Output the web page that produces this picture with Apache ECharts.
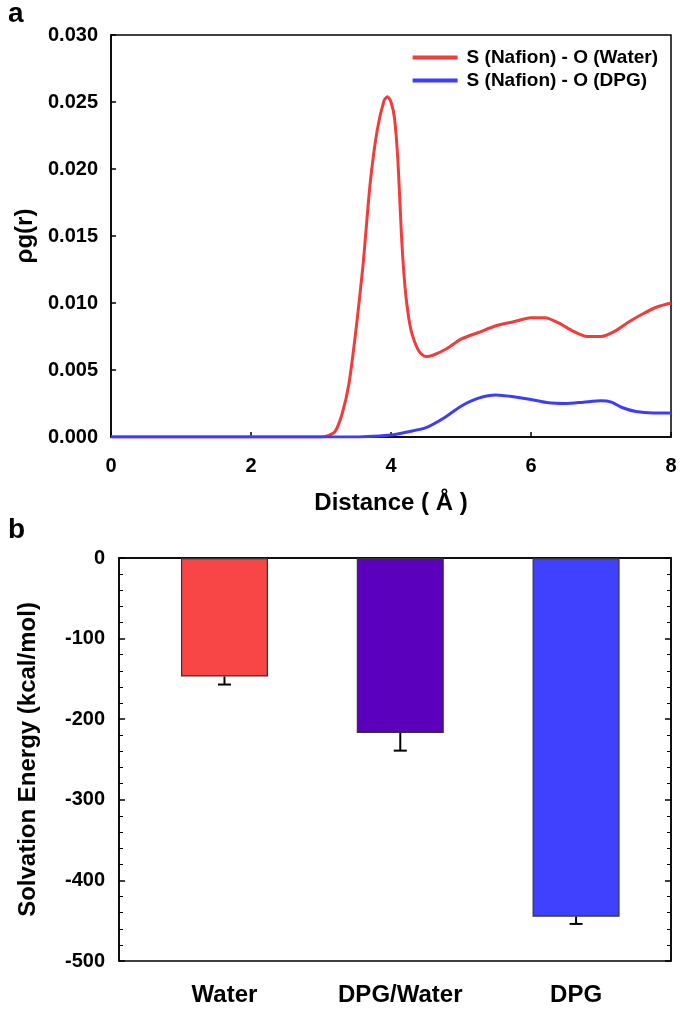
<!DOCTYPE html>
<html>
<head>
<meta charset="utf-8">
<script src="https://cdn.jsdelivr.net/npm/echarts@6/dist/echarts.min.js"></script>
<style>
html,body{margin:0;padding:0;background:#fff;}
#chart{width:685px;height:1017px;}
</style>
</head>
<body>
<div id="chart"></div>
<script>
// Panel a: radial distribution
const waterX = [0, 0.5, 1, 1.5, 2, 2.5, 2.8, 3.0, 3.1, 3.2, 3.3, 3.4, 3.5, 3.6, 3.7, 3.8, 3.9, 3.95, 4.0, 4.05, 4.1, 4.15, 4.2, 4.25, 4.3, 4.4, 4.5, 4.6, 4.8, 5.0, 5.25, 5.5, 5.75, 6.0, 6.2, 6.4, 6.6, 6.8, 7.0, 7.2, 7.4, 7.6, 7.8, 8.0];
const waterY = [0, 0, 0, 0, 0, 0, 0, 0, 0.0001, 0.0004, 0.0017, 0.0040, 0.0080, 0.0128, 0.0188, 0.0228, 0.0251, 0.0254, 0.0250, 0.0238, 0.0205, 0.0150, 0.0112, 0.0090, 0.0077, 0.0064, 0.0060, 0.0061, 0.0066, 0.0073, 0.0078, 0.0083, 0.0086, 0.0089, 0.0089, 0.0085, 0.0079, 0.0075, 0.0075, 0.0079, 0.0086, 0.0092, 0.0097, 0.0100];
const dpgX = [0, 0.5, 1, 1.5, 2, 2.5, 3, 3.5, 3.75, 4.0, 4.25, 4.5, 4.75, 5.0, 5.25, 5.5, 5.75, 6.0, 6.25, 6.5, 6.75, 7.0, 7.15, 7.3, 7.5, 7.75, 8.0];
const dpgY = [0, 0, 0, 0, 0, 0, 0, 0, 0.00005, 0.00015, 0.0004, 0.0007, 0.0014, 0.0023, 0.0029, 0.00313, 0.0030, 0.0028, 0.00255, 0.0025, 0.0026, 0.0027, 0.0026, 0.0022, 0.0019, 0.0018, 0.0018];
const seriesNames = ['S (Nafion) - O (Water)', 'S (Nafion) - O (DPG)'];

// Panel b: solvation energy
const categories = ['Water', 'DPG/Water', 'DPG'];
const energies = [-147, -217, -445];
const errors = [10, 22, 9];
const barColors = ['#f84545', '#5b00bd', '#4040ff'];

const zip = (xs, ys) => xs.map((x, i) => [x, ys[i]]);
const FONT = 'Liberation Sans, Arial, sans-serif';
const tickLabel = {fontFamily: FONT, fontWeight: 'bold', fontSize: 20, color: '#000'};
const titleStyle = {fontFamily: FONT, fontWeight: 'bold', fontSize: 24, color: '#000'};

const chart = echarts.init(document.getElementById('chart'));
chart.setOption({
  animation: false,
  backgroundColor: '#fff',
  graphic: [
    {type: 'text', left: 8, top: 0, style: {text: 'a', font: 'bold 28px ' + FONT, fill: '#000'}},
    {type: 'text', left: 8, top: 516, style: {text: 'b', font: 'bold 28px ' + FONT, fill: '#000'}}
  ],
  legend: {
    data: seriesNames,
    orient: 'vertical',
    right: 22,
    top: 43,
    itemWidth: 45,
    itemHeight: 4,
    itemGap: 4,
    icon: 'rect',
    textStyle: {fontFamily: FONT, fontWeight: 'bold', fontSize: 19, color: '#000', padding: [0, 0, 0, 4]}
  },
  grid: [
    {left: 111, top: 35, width: 560, height: 402, show: true, borderColor: '#000', borderWidth: 1.5, backgroundColor: 'transparent'},
    {left: 119, top: 558, width: 552, height: 403, show: true, borderColor: '#000', borderWidth: 1.5, backgroundColor: 'transparent'}
  ],
  xAxis: [
    {gridIndex: 0, type: 'value', min: 0, max: 8, interval: 2,
     axisLine: {lineStyle: {color: '#000', width: 1.5}},
     axisTick: {inside: true, length: 5, lineStyle: {color: '#000', width: 1.5}},
     axisLabel: Object.assign({margin: 19}, tickLabel),
     splitLine: {show: false},
     name: 'Distance ( Å )', nameLocation: 'middle', nameGap: 54,
     nameTextStyle: titleStyle},
    {gridIndex: 1, type: 'value', min: 0.4, max: 3.54,
     axisLine: {lineStyle: {color: '#000', width: 1.5}},
     axisTick: {show: false},
     axisLabel: Object.assign({}, tickLabel, {fontSize: 24, margin: 22, customValues: [1, 2, 3],
       formatter: v => categories[Math.round(v) - 1] || ''}),
     splitLine: {show: false}}
  ],
  yAxis: [
    {gridIndex: 0, type: 'value', min: 0, max: 0.03, interval: 0.005,
     axisLine: {show: true, lineStyle: {color: '#000', width: 1.5}},
     axisTick: {show: true, inside: true, length: 5, lineStyle: {color: '#000', width: 1.5}},
     axisLabel: Object.assign({margin: 13, formatter: v => v.toFixed(3)}, tickLabel),
     splitLine: {show: false},
     name: 'ρg(r)', nameLocation: 'middle', nameGap: 71, nameRotate: 90,
     nameTextStyle: titleStyle},
    {gridIndex: 1, type: 'value', min: -500, max: 0, interval: 100, position: 'left',
     axisLine: {show: true, lineStyle: {color: '#000', width: 1.5}},
     axisTick: {show: true, inside: true, length: 6, lineStyle: {color: '#000', width: 1.5}},
     minorTick: {show: true, splitNumber: 5, length: 4, lineStyle: {color: '#000', width: 1}},
     axisLabel: Object.assign({margin: 14}, tickLabel),
     splitLine: {show: false},
     name: 'Solvation Energy (kcal/mol)', nameLocation: 'middle', nameGap: 79, nameRotate: 90,
     nameTextStyle: titleStyle},
    {gridIndex: 1, type: 'value', min: -500, max: 0, interval: 100, position: 'right',
     axisLine: {show: true, lineStyle: {color: '#000', width: 1.5}},
     axisTick: {show: true, inside: true, length: 6, lineStyle: {color: '#000', width: 1.5}},
     minorTick: {show: true, splitNumber: 5, length: 4, lineStyle: {color: '#000', width: 1}},
     axisLabel: {show: false},
     splitLine: {show: false}}
  ],
  series: [
    {name: seriesNames[0], type: 'line', xAxisIndex: 0, yAxisIndex: 0, data: zip(waterX, waterY),
     smooth: 0.25, showSymbol: false, color: '#f23c3c', lineStyle: {width: 3, color: '#f23c3c'}},
    {name: seriesNames[1], type: 'line', xAxisIndex: 0, yAxisIndex: 0, data: zip(dpgX, dpgY),
     smooth: 0.25, showSymbol: false, color: '#3c3cff', lineStyle: {width: 3, color: '#3c3cff'}},
    {type: 'bar', xAxisIndex: 1, yAxisIndex: 1, barWidth: 87,
     data: energies.map((v, i) => ({value: [i + 1, v], itemStyle: {color: barColors[i], borderColor: '#333', borderWidth: 1.2}}))},
    {type: 'custom', xAxisIndex: 1, yAxisIndex: 1,
     data: energies.map((v, i) => [i + 1, v, errors[i]]),
     renderItem: (params, api) => {
       const x = api.value(0), v = api.value(1), e = api.value(2);
       const p0 = api.coord([x, v]);
       const p1 = api.coord([x, v - e]);
       const half = 6.5;
       const st = {stroke: '#000', lineWidth: 2};
       return {type: 'group', children: [
         {type: 'line', shape: {x1: p0[0], y1: p0[1], x2: p1[0], y2: p1[1]}, style: st},
         {type: 'line', shape: {x1: p1[0] - half, y1: p1[1], x2: p1[0] + half, y2: p1[1]}, style: st}
       ]};
     }}
  ]
});
</script>
</body>
</html>
